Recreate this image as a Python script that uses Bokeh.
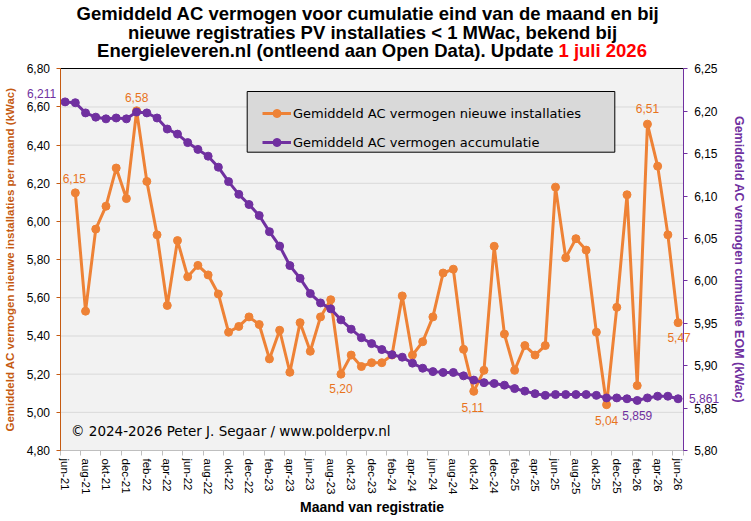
import numpy as np
from bokeh.plotting import figure
from bokeh.models import (Range1d, LinearAxis, FixedTicker, CustomJSTickFormatter, Label,
                          Legend, LegendItem, BoxAnnotation, ColumnDataSource)
from bokeh.embed import file_html
from bokeh.resources import INLINE

# ---------------- data ----------------
months = ["jun-21", "jul-21", "aug-21", "sep-21", "okt-21", "nov-21", "dec-21",
          "jan-22", "feb-22", "mrt-22", "apr-22", "mei-22", "jun-22", "jul-22", "aug-22", "sep-22",
          "okt-22", "nov-22", "dec-22",
          "jan-23", "feb-23", "mrt-23", "apr-23", "mei-23", "jun-23", "jul-23", "aug-23", "sep-23",
          "okt-23", "nov-23", "dec-23",
          "jan-24", "feb-24", "mrt-24", "apr-24", "mei-24", "jun-24", "jul-24", "aug-24", "sep-24",
          "okt-24", "nov-24", "dec-24",
          "jan-25", "feb-25", "mrt-25", "apr-25", "mei-25", "jun-25", "jul-25", "aug-25", "sep-25",
          "okt-25", "nov-25", "dec-25",
          "jan-26", "feb-26", "mrt-26", "apr-26", "mei-26", "jun-26"]

# Gemiddeld AC vermogen nieuwe installaties (kWac), left axis (no value for jun-21)
new_install = [np.nan, 6.15, 5.53, 5.96, 6.08, 6.28, 6.12,
               6.58, 6.21, 5.93, 5.56, 5.90, 5.71, 5.77, 5.72, 5.62, 5.42, 5.45, 5.50,
               5.46, 5.28, 5.43, 5.21, 5.47, 5.32, 5.50, 5.59, 5.20, 5.30, 5.24, 5.26,
               5.26, 5.30, 5.61, 5.30, 5.37, 5.50, 5.73, 5.75, 5.33, 5.11, 5.22, 5.87,
               5.41, 5.22, 5.35, 5.30, 5.35, 6.18, 5.81, 5.91, 5.85, 5.42, 5.04, 5.55,
               6.14, 5.14, 6.51, 6.29, 5.93, 5.47]

# Gemiddeld AC vermogen accumulatie (kWac), right axis
cumulative = [6.211, 6.210, 6.198, 6.193, 6.191, 6.192, 6.191,
              6.199, 6.198, 6.192, 6.179, 6.173, 6.163, 6.155, 6.147, 6.134, 6.117, 6.102, 6.090,
              6.077, 6.058, 6.041, 6.018, 6.003, 5.985, 5.974, 5.967, 5.954, 5.943, 5.933, 5.926,
              5.919, 5.913, 5.910, 5.903, 5.897, 5.893, 5.892, 5.892, 5.888, 5.883, 5.880, 5.879,
              5.877, 5.873, 5.870, 5.867, 5.865, 5.866, 5.866, 5.866, 5.866, 5.865, 5.862, 5.862,
              5.861, 5.859, 5.862, 5.864, 5.864, 5.861]

left_ticks = [4.80, 5.00, 5.20, 5.40, 5.60, 5.80, 6.00, 6.20, 6.40, 6.60, 6.80]
right_ticks = [5.80, 5.85, 5.90, 5.95, 6.00, 6.05, 6.10, 6.15, 6.20, 6.25]

# points that carry a value label
new_labelled = [1, 7, 27, 40, 53, 57, 60]
cum_labelled = [0, 56, 60]

ORANGE = "#ee8236"
ORANGE_TXT = "#e8731c"
ORANGE_AX = "#c55a11"
PURPLE = "#7030a0"

# ---------------- geometry (pixels) ----------------
W, H = 751, 521
PX_L, PX_R, PX_T, PX_B = 59.5, 682.7, 68.3, 450.0   # plot-area edges

def sx(wx):      # page x -> screen x (frame = whole canvas)
    return wx

def sy(wy):      # page y -> screen y (measured upward from bottom)
    return H - wy

n = len(months)
x_lo, x_hi = -0.5, n - 0.5
yl_lo, yl_hi = left_ticks[0], left_ticks[-1]
yr_lo, yr_hi = right_ticks[0], right_ticks[-1]
kx = (PX_R - PX_L) / (x_hi - x_lo)
kyl = (PX_B - PX_T) / (yl_hi - yl_lo)
kyr = (PX_B - PX_T) / (yr_hi - yr_lo)

p = figure(width=W, height=H, output_backend="svg", toolbar_location=None,
           x_range=Range1d(x_lo - PX_L / kx, x_hi + (W - PX_R) / kx),
           y_range=Range1d(yl_lo - (H - PX_B) / kyl, yl_hi + PX_T / kyl),
           x_axis_type=None, y_axis_type=None, min_border=0,
           background_fill_color="white", border_fill_color="white", outline_line_color=None)
p.extra_y_ranges = {"cum": Range1d(yr_lo - (H - PX_B) / kyr, yr_hi + PX_T / kyr)}

# plot-area background
p.add_layout(BoxAnnotation(left=x_lo, right=x_hi, bottom=yl_lo, top=yl_hi,
                           fill_color="#f2f2f2", fill_alpha=1.0, line_color=None, level="underlay"))

fmt2 = "return tick.toFixed(2).replace('.', ',');"

# left axis
ya = LinearAxis(fixed_location=x_lo, bounds=(yl_lo, yl_hi), ticker=FixedTicker(ticks=left_ticks),
                formatter=CustomJSTickFormatter(code=fmt2))
ya.axis_line_color = ORANGE_AX
ya.major_tick_line_color = ORANGE_AX
ya.major_tick_out = 4
ya.major_tick_in = 0
ya.minor_tick_line_color = None
ya.major_label_text_font = "Liberation Sans"
ya.major_label_text_font_size = "12px"
ya.major_label_text_color = "black"
ya.major_label_standoff = 6
ya.axis_label = "Gemiddeld AC vermogen nieuwe installaties per maand (kWac)"
ya.axis_label_text_font = "Liberation Sans"
ya.axis_label_text_font_style = "bold"
ya.axis_label_text_font_size = "11.5px"
ya.axis_label_text_color = ORANGE_AX
ya.axis_label_standoff = 8
p.add_layout(ya, "left")

# right axis
ra = LinearAxis(y_range_name="cum", fixed_location=x_hi, bounds=(yr_lo, yr_hi),
                ticker=FixedTicker(ticks=right_ticks), formatter=CustomJSTickFormatter(code=fmt2))
ra.axis_line_color = PURPLE
ra.major_tick_line_color = PURPLE
ra.major_tick_out = 4
ra.major_tick_in = 0
ra.minor_tick_line_color = None
ra.major_label_text_font = "Liberation Sans"
ra.major_label_text_font_size = "12px"
ra.major_label_text_color = "black"
ra.major_label_standoff = 7
ra.axis_label = "Gemiddeld AC vermogen cumulatie EOM (kWac)"
ra.axis_label_text_font = "Liberation Sans"
ra.axis_label_text_font_style = "bold"
ra.axis_label_text_font_size = "12.5px"
ra.axis_label_text_color = PURPLE
ra.axis_label_standoff = 11
p.add_layout(ra, "right")

# x axis: labels on every other month, tick marks between categories
label_pos = list(range(0, n, 2))
bounds = [i - 0.5 for i in label_pos] + [x_hi]
xa = LinearAxis(fixed_location=yl_lo, bounds=(x_lo, x_hi),
                ticker=FixedTicker(ticks=label_pos, minor_ticks=bounds),
                formatter=CustomJSTickFormatter(args=dict(labels=months),
                    code="const i = Math.round(tick); return (i >= 0 && i < labels.length) ? labels[i] : '';"))
xa.major_label_orientation = "vertical"
xa.major_tick_line_color = None
xa.major_tick_out = 0
xa.major_tick_in = 0
xa.minor_tick_line_color = "#bfbfbf"
xa.minor_tick_out = 5
xa.minor_tick_in = 0
xa.axis_line_color = "#bfbfbf"
xa.major_label_text_font = "Liberation Sans"
xa.major_label_text_font_size = "11.5px"
xa.major_label_text_color = "black"
xa.major_label_standoff = 3
xa.axis_label = "Maand van registratie"
xa.axis_label_text_font = "Liberation Sans"
xa.axis_label_text_font_style = "bold"
xa.axis_label_text_font_size = "14px"
xa.axis_label_text_color = "black"
xa.axis_label_standoff = 2
p.add_layout(xa, "below")

# top border of the plot area
ta = LinearAxis(fixed_location=yl_hi, bounds=(x_lo, x_hi), ticker=FixedTicker(ticks=[]))
ta.axis_line_color = "black"
ta.major_tick_line_color = None
ta.minor_tick_line_color = None
p.add_layout(ta, "above")

# horizontal grid lines inside the plot area
inner = left_ticks[1:-1]
p.segment(x0=[x_lo] * len(inner), x1=[x_hi] * len(inner), y0=inner, y1=inner,
          line_color="#d9d9d9", line_width=1)

# series
idx = np.arange(n, dtype=float)
src = ColumnDataSource(dict(x=idx, new=np.array(new_install, dtype=float),
                            cum=np.array(cumulative, dtype=float)))
r1 = p.line("x", "new", source=src, line_color=ORANGE, line_width=3)
r2 = p.scatter("x", "new", source=src, size=8, fill_color=ORANGE, line_color=ORANGE)
r3 = p.line("x", "cum", source=src, y_range_name="cum", line_color=PURPLE, line_width=3)
r4 = p.scatter("x", "cum", source=src, y_range_name="cum", size=8, fill_color=PURPLE, line_color=PURPLE)

# legend box + legend
p.add_layout(BoxAnnotation(left=sx(246.7), right=sx(614.3), top=sy(91), bottom=sy(151.7),
                           left_units="screen", right_units="screen",
                           top_units="screen", bottom_units="screen",
                           fill_color="#d9d9d9", fill_alpha=1.0,
                           line_color="black", line_width=1, line_alpha=1.0))
legend = Legend(items=[LegendItem(label="Gemiddeld AC vermogen nieuwe installaties", renderers=[r1, r2]),
                       LegendItem(label="Gemiddeld AC vermogen accumulatie", renderers=[r3, r4])],
                location=(sx(262), sy(152.3)), orientation="vertical")
legend.background_fill_alpha = 0
legend.border_line_color = None
legend.label_text_font = "DejaVu Sans"
legend.label_text_font_size = "13px"
legend.label_text_color = "black"
legend.glyph_width = 29
legend.glyph_height = 20
legend.label_height = 20
legend.spacing = 9
legend.padding = 6
legend.margin = 0
legend.label_standoff = 2
p.add_layout(legend, "center")

# value labels
def fmt(v, d):
    return f"{v:.{d}f}".replace(".", ",")

new_style = {1: ("center", "bottom", -1, 10), 7: ("center", "bottom", 0, 9),
             27: ("center", "top", 0, -10), 40: ("center", "top", -1, -12),
             53: ("center", "top", 0, -11), 57: ("center", "bottom", 0, 11),
             60: ("center", "top", 1, -10)}
for i in new_labelled:
    a, b, dx, dy = new_style[i]
    p.add_layout(Label(x=i, y=new_install[i], text=fmt(new_install[i], 2), text_align=a,
                       text_baseline=b, x_offset=dx, y_offset=dy, text_color=ORANGE_TXT,
                       text_font="Liberation Sans", text_font_size="12px"))

cum_style = {0: ("right", "middle", -9, 8), 56: ("center", "top", 0, -11),
             60: ("left", "middle", 11, 0)}
for i in cum_labelled:
    a, b, dx, dy = cum_style[i]
    p.add_layout(Label(x=i, y=cumulative[i], y_range_name="cum", text=fmt(cumulative[i], 3),
                       text_align=a, text_baseline=b, x_offset=dx, y_offset=dy, text_color=PURPLE,
                       text_font="Liberation Sans", text_font_size="12px"))

# copyright
p.add_layout(Label(x=sx(70.5), y=sy(430), x_units="screen", y_units="screen",
                   text="\u00a9 2024-2026  Peter J. Segaar / www.polderpv.nl",
                   text_align="left", text_baseline="middle", text_color="black",
                   text_font="DejaVu Sans", text_font_size="13.5px"))

# title (three lines, date in red)
tkw = dict(x_units="screen", y_units="screen", text_baseline="middle",
           text_font="Liberation Sans", text_font_style="bold", text_font_size="18.5px")
p.add_layout(Label(x=sx(367.5), y=sy(13), text="Gemiddeld AC vermogen voor cumulatie eind van de maand en bij",
                   text_align="center", text_color="black", **tkw))
p.add_layout(Label(x=sx(372), y=sy(31.5), text="nieuwe registraties PV installaties < 1 MWac, bekend bij",
                   text_align="center", text_color="black", **tkw))
p.add_layout(Label(x=sx(553), y=sy(50), text="Energieleveren.nl (ontleend aan Open Data). Update",
                   text_align="right", text_color="black", **tkw))
p.add_layout(Label(x=sx(558), y=sy(50), text="1 juli 2026",
                   text_align="left", text_color="#ff0000", **tkw))

open("out.html", "w").write(file_html(p, INLINE))
